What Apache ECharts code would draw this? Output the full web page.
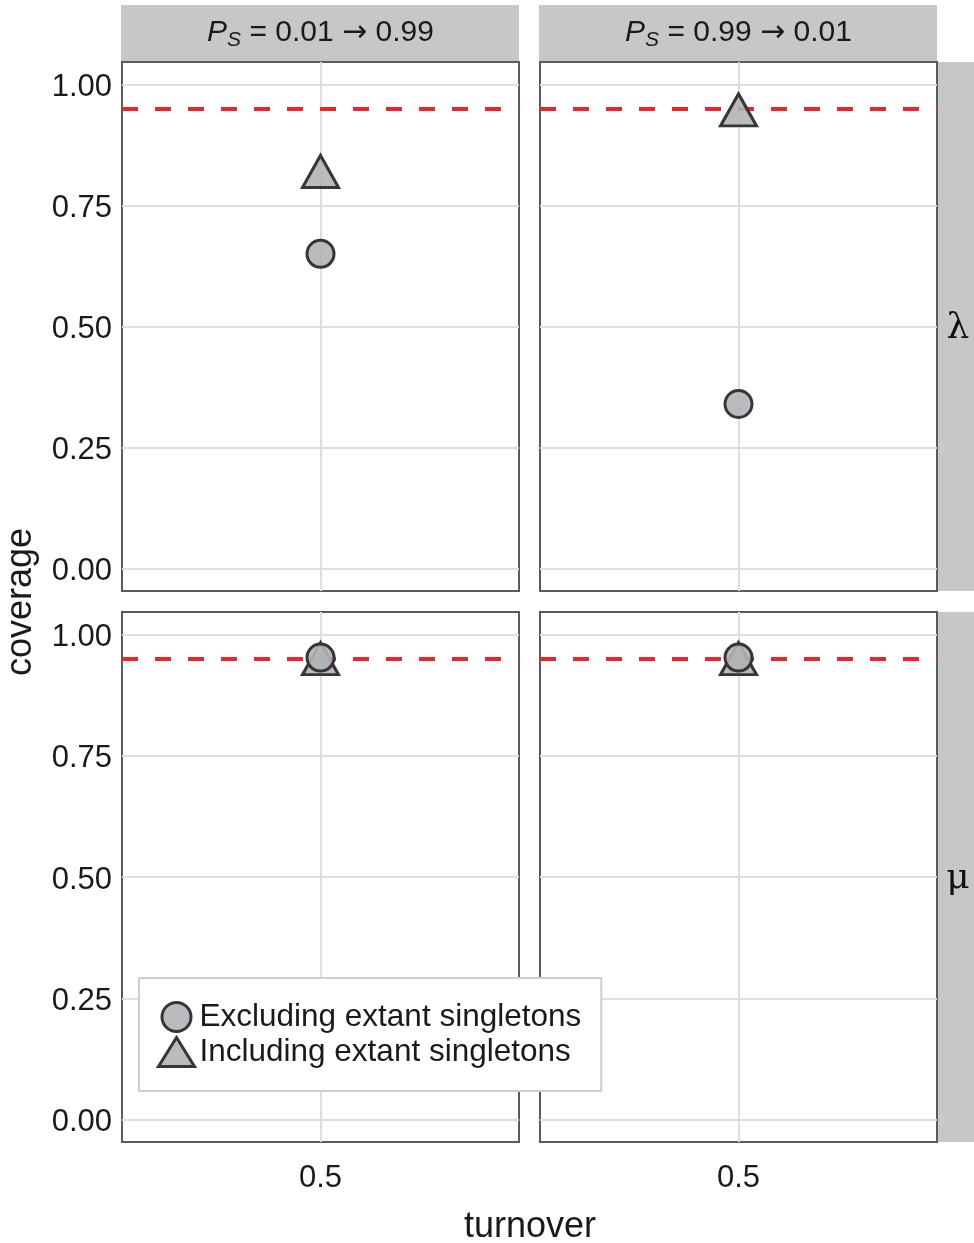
<!DOCTYPE html>
<html>
<head>
<meta charset="utf-8">
<script src="https://cdn.jsdelivr.net/npm/echarts@6/dist/echarts.min.js"></script>
<style>
  html, body { margin: 0; padding: 0; background: #fff; }
  #chart { width: 974px; height: 1243px; }
</style>
</head>
<body>
<div id="chart"></div>
<script>
// ---------------- data ----------------
const facetFrom = ['0.01', '0.99'];
const facetTo = ['0.99', '0.01'];
const rowLabels = ['\u03bb', '\u03bc'];
const turnover = [0.5];
const xTicks = [0.5];
const yTicks = [0, 0.25, 0.5, 0.75, 1];
const seriesNames = ['Excluding extant singletons', 'Including extant singletons'];
// values per column (left facet, right facet)
const excludingLambda = [0.65, 0.34];
const includingLambda = [0.82, 0.947];
const excludingMu = [0.952, 0.952];
const includingMu = [0.95, 0.95];
const nominalCoverage = [0.95];

// ---------------- layout ----------------
const FONT = "'Liberation Sans', Arial, Helvetica, sans-serif";
const TXT = '#1a1a1a';
const colLeft = [122, 540];
const colWidth = 397;
const rowTop = [62, 612];
const rowHeight = [529, 530];

const valuesByRow = [
  [excludingLambda, includingLambda],
  [excludingMu, includingMu]
];

const markerStyle = { color: 'rgba(178,180,183,0.9)', borderColor: '#363636', borderWidth: 3, opacity: 1 };

const grids = [], xAxes = [], yAxes = [], series = [];
let gi = 0;
for (let r = 0; r < 2; r++) {
  for (let c = 0; c < 2; c++) {
    grids.push({
      left: colLeft[c], top: rowTop[r], width: colWidth, height: rowHeight[r],
      show: true, backgroundColor: '#fff', borderColor: '#5b5b5b', borderWidth: 2,
      containLabel: false
    });
    xAxes.push({
      type: 'value', gridIndex: gi, min: 0, max: 1,
      axisLine: { show: false },
      axisTick: { show: false, customValues: xTicks },
      axisLabel: {
        show: r === 1, customValues: xTicks, margin: 21,
        fontSize: 31, color: TXT, fontFamily: FONT,
        formatter: v => String(v)
      },
      splitLine: { show: true, lineStyle: { color: '#dedede', width: 2 } }
    });
    yAxes.push({
      type: 'value', gridIndex: gi, min: -0.046, max: 1.046,
      axisLine: { show: false },
      axisTick: { show: false, customValues: yTicks },
      axisLabel: {
        show: c === 0, customValues: yTicks, margin: 10,
        fontSize: 31, color: TXT, fontFamily: FONT,
        formatter: v => '{v|' + v.toFixed(2) + '}',
        rich: {
          v: { fontSize: 31, color: TXT, fontFamily: FONT, padding: [6, 0, 0, 0] }
        }
      },
      splitLine: { show: true, lineStyle: { color: '#dedede', width: 2 } }
    });
    // reference line (nominal coverage)
    series.push({
      type: 'scatter', xAxisIndex: gi, yAxisIndex: gi, data: [], z: 1,
      silent: true,
      markLine: {
        silent: true, symbol: ['none', 'none'], animation: false, z: 1,
        label: { show: false },
        lineStyle: { color: '#e8262c', type: [16, 17], width: 4 },
        emphasis: { disabled: true },
        data: nominalCoverage.map(v => ({ yAxis: v }))
      }
    });
    // triangle first (drawn below), then circle
    series.push({
      type: 'scatter', name: seriesNames[1], xAxisIndex: gi, yAxisIndex: gi, z: 5,
      symbol: 'triangle', symbolSize: [36, 32],
      itemStyle: markerStyle,
      data: turnover.map(t => [t, valuesByRow[r][1][c]])
    });
    series.push({
      type: 'scatter', name: seriesNames[0], xAxisIndex: gi, yAxisIndex: gi, z: 6,
      symbol: 'circle', symbolSize: 27,
      itemStyle: markerStyle,
      data: turnover.map(t => [t, valuesByRow[r][0][c]])
    });
    gi++;
  }
}

// strips and titles
const graphics = [];
for (let c = 0; c < 2; c++) {
  graphics.push({
    type: 'rect', left: colLeft[c] - 1, top: 5, z: 0,
    shape: { width: colWidth + 1, height: 56 },
    style: { fill: '#c6c7c7' }
  });
  graphics.push({
    type: 'text', x: colLeft[c] + colWidth / 2, y: 33, z: 5,
    style: {
      text: '{p|P}{s|S}{t| = ' + facetFrom[c] + ' }{a|\u2192}{t| ' + facetTo[c] + '}',
      align: 'center', verticalAlign: 'middle',
      fill: TXT, fontFamily: FONT,
      rich: {
        p: { fontSize: 30, fontStyle: 'italic', fontFamily: FONT, lineHeight: 36, fill: TXT },
        s: { fontSize: 21, fontStyle: 'italic', fontFamily: FONT, lineHeight: 20, verticalAlign: 'bottom', fill: TXT },
        t: { fontSize: 30, fontFamily: FONT, lineHeight: 36, fill: TXT },
        a: { fontSize: 30, fontFamily: "'DejaVu Sans', sans-serif", lineHeight: 36, fill: TXT }
      }
    }
  });
}
for (let r = 0; r < 2; r++) {
  graphics.push({
    type: 'rect', left: 938, top: rowTop[r], z: 0,
    shape: { width: 40, height: rowHeight[r] },
    style: { fill: '#c6c7c7' }
  });
  graphics.push({
    type: 'text', x: 958, y: rowTop[r] + rowHeight[r] / 2 + 2, z: 5,
    style: {
      text: rowLabels[r], align: 'center', verticalAlign: 'middle',
      fontSize: 36, fontFamily: "'DejaVu Serif', serif", fill: '#111'
    }
  });
}
graphics.push({
  type: 'text', x: 21, y: 602, rotation: Math.PI / 2, z: 5,
  style: { text: 'coverage', align: 'center', verticalAlign: 'middle', fontSize: 36, fontFamily: FONT, fill: TXT }
});
graphics.push({
  type: 'text', x: 530, y: 1227, z: 5,
  style: { text: 'turnover', align: 'center', verticalAlign: 'middle', fontSize: 36, fontFamily: FONT, fill: TXT }
});

const chart = echarts.init(document.getElementById('chart'), null, { renderer: 'canvas' });
chart.setOption({
  animation: false,
  backgroundColor: '#fff',
  grid: grids,
  xAxis: xAxes,
  yAxis: yAxes,
  series: series,
  graphic: graphics,
  legend: {
    left: 139, top: 978, orient: 'vertical', z: 10,
    backgroundColor: '#fff', borderColor: '#cfcfcf', borderWidth: 2, borderRadius: 0,
    padding: [23, 20, 23, 18], itemGap: 3,
    itemWidth: 36, itemHeight: 29,
    selectedMode: false,
    textStyle: { fontSize: 31.5, color: TXT, fontFamily: FONT, lineHeight: 32 },
    itemStyle: { borderColor: '#363636', borderWidth: 3 },
    data: [
      { name: seriesNames[0], icon: 'circle' },
      { name: seriesNames[1], icon: 'triangle' }
    ]
  }
});
</script>
</body>
</html>
